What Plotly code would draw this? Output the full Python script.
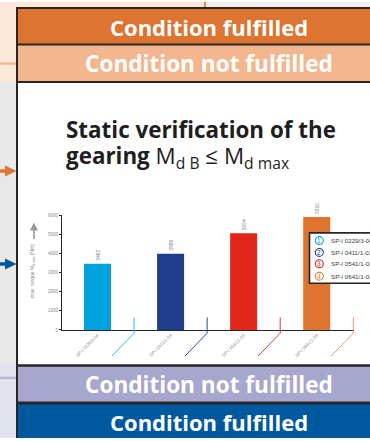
import plotly.graph_objects as go

W, H = 370, 441

# ---- data ----
categories = ["SP-I 0229/3-04", "SP-I 0411/1-03", "SP-I 0541/1-03", "SP-I 0641/1-03"]
torque_values = [3462, 3986, 5054, 5910]
value_labels = ["3462", "3986", "5054", "5910"]
bar_colors = ["#00A3E0", "#213C8C", "#E1261C", "#DE7430"]
leader_colors = ["#3DB7EA", "#2B4596", "#E2382E", "#EE9B63"]
legend_numbers = ["1", "2", "3", "4"]
y_ticks = [0, 1000, 2000, 3000, 4000, 5000, 6000]
banner_texts = ["Condition fulfilled", "Condition not fulfilled",
                "Condition not fulfilled", "Condition fulfilled"]
banner_colors = ["#DD7431", "#F3B78F", "#A7A6CD", "#00589F"]

def px(x):
    return x / W

def py(y):
    return 1 - y / H

positions = list(range(len(categories)))

fig = go.Figure()
fig.add_trace(go.Bar(
    x=positions, y=torque_values, width=0.37,
    marker=dict(color=bar_colors, line=dict(width=0)),
    text=value_labels, textposition="outside", textangle=-90,
    textfont=dict(size=5, color="#8a8a8a", family="Liberation Sans"),
    cliponaxis=False, constraintext="none", showlegend=False,
))

shapes = []
annotations = []
DARK = "#262626"

def rect(x0, y0, x1, y1, color, layer="below"):
    shapes.append(dict(type="rect", xref="paper", yref="paper",
                       x0=px(x0), x1=px(x1), y0=py(y1), y1=py(y0),
                       fillcolor=color, line=dict(width=0), layer=layer))

# background regions
rect(0, 0, W, 441, "#E8E8E8")
rect(0, 0, 205, 80, "#FCE7D8")
rect(205, 0, W, 6, "#EDEDED")
rect(0, 366, 16, 441, "#E2E2EE")
rect(0, 61, 16, 63.5, "#F4BB95")
rect(0, 379, 16, 381.5, "#B9B8DA")
rect(204, 0, 206, 6, "#E58A4E")

# panel frame
rect(16, 5, W, 441, DARK)
# banners
bands = [(7, 42), (44, 80), (369, 404), (407, 441)]
for (t, b), col in zip(bands, banner_colors):
    rect(18, t, W, b, col)
rect(18, 82, W, 366.5, "#FFFFFF")

for (t, b), txt, fs in zip(bands, banner_texts, [22, 22.6, 22.6, 22]):
    annotations.append(dict(xref="paper", yref="paper", x=px(209), y=py((t + b) / 2 + 0.5),
                            text="<b>" + txt + "</b>", showarrow=False,
                            font=dict(size=fs, color="#FFFFFF", family="Open Sans"),
                            xanchor="center", yanchor="middle"))

# left arrows
def arrow(yc, color):
    shapes.append(dict(type="rect", xref="paper", yref="paper",
                       x0=px(0), x1=px(6), y0=py(yc + 1.8), y1=py(yc - 1.8),
                       fillcolor=color, line=dict(width=0), layer="above"))
    shapes.append(dict(type="path", xref="paper", yref="paper",
                       path=f"M {px(5)},{py(yc-5.5)} L {px(16.5)},{py(yc)} L {px(5)},{py(yc+5.5)} Z",
                       fillcolor=color, line=dict(width=0), layer="above"))
arrow(171, "#E0762F")
arrow(265, "#00589F")

# title
annotations.append(dict(xref="paper", yref="paper", x=px(64), y=py(129),
                        text="<b>Static verification of the</b>", showarrow=False,
                        font=dict(size=22.4, color="#1E1E1E", family="Open Sans"),
                        xanchor="left", yanchor="middle"))
annotations.append(dict(xref="paper", yref="paper", x=px(64), y=py(157),
                        text="<b>gearing</b> M<sub>d B</sub> ≤ M<sub>d max</sub>", showarrow=False,
                        font=dict(size=22.4, color="#1E1E1E", family="Open Sans"),
                        xanchor="left", yanchor="middle"))

# y-axis title and arrow
annotations.append(dict(xref="paper", yref="paper", x=px(33), y=py(272),
                        text="max. torque M<sub>d max</sub> [Nm]", showarrow=False, textangle=-90,
                        font=dict(size=5, color="#8a8a8a", family="Liberation Sans"),
                        xanchor="center", yanchor="middle"))
annotations.append(dict(xref="paper", yref="paper", x=px(34), y=py(223),
                        ax=0, ay=18, text="", showarrow=True, arrowhead=2, arrowsize=1,
                        arrowwidth=1.6, arrowcolor="#999999"))

# leader lines from category boundaries to tick labels
for i, col in zip(positions, leader_colors):
    xb = i + 0.5
    xe = i + 0.5 - 22 / 73
    shapes.append(dict(type="path", xref="x", yref="paper",
                       path=f"M {xb},{py(319)} L {xb},{py(335)} L {xe},{py(358)}",
                       line=dict(color=col, width=1), layer="above"))

# legend box
shapes.append(dict(type="rect", xref="paper", yref="paper",
                   x0=px(309.5), x1=px(380), y0=py(284.5), y1=py(233.5),
                   fillcolor="#FFFFFF", line=dict(color=DARK, width=1.6), layer="above"))
legend_rows = [241.3, 253.3, 264.7, 277.3]
for num, name, col, yr in zip(legend_numbers, categories, bar_colors, legend_rows):
    shapes.append(dict(type="circle", xref="paper", yref="paper",
                       x0=px(315.3), x1=px(323.3), y0=py(yr + 4), y1=py(yr - 4),
                       fillcolor="#FFFFFF", line=dict(color=col, width=1.1), layer="above"))
    annotations.append(dict(xref="paper", yref="paper", x=px(319.3), y=py(yr),
                            text=num, showarrow=False,
                            font=dict(size=6.5, color=col, family="Liberation Sans"),
                            xanchor="center", yanchor="middle"))
    annotations.append(dict(xref="paper", yref="paper", x=px(328.5), y=py(yr),
                            text=name, showarrow=False,
                            font=dict(size=6.2, color="#3a3a3a", family="Liberation Sans Narrow, Liberation Sans"),
                            xanchor="left", yanchor="middle"))

fig.update_layout(
    width=W, height=H, autosize=False,
    margin=dict(l=0, r=0, t=0, b=0),
    paper_bgcolor="#FFFFFF", plot_bgcolor="rgba(0,0,0,0)",
    shapes=shapes, annotations=annotations, showlegend=False,
    xaxis=dict(domain=[px(62), px(354)], range=[-0.486, 3.51],
               tickvals=positions, ticktext=categories, tickangle=-45,
               tickfont=dict(size=4.5, color="#8a8a8a", family="Liberation Sans"),
               showline=True, linecolor=DARK, linewidth=1.2, ticks="",
               showgrid=False, zeroline=False, fixedrange=True),
    yaxis=dict(domain=[py(331.7), py(215.7)], range=[0, 6000], tickvals=y_ticks,
               tickfont=dict(size=4.5, color="#8a8a8a", family="Liberation Sans"),
               showline=True, linecolor=DARK, linewidth=1.2, ticks="outside", ticklen=2,
               tickcolor=DARK, tickwidth=0.8, showgrid=False, zeroline=False, fixedrange=True),
)

fig.write_html("out.html", config={"displayModeBar": False},
               post_script="document.body.style.margin='0';document.body.style.overflow='hidden';")
